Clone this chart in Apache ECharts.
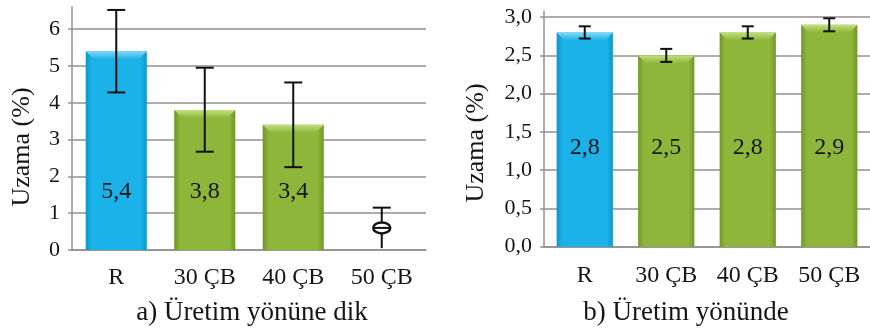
<!DOCTYPE html>
<html>
<head>
<meta charset="utf-8">
<script src="https://cdn.jsdelivr.net/npm/echarts@6/dist/echarts.min.js"></script>
<style>html,body{margin:0;padding:0;background:#fff}#c{width:870px;height:334px}</style>
</head>
<body>
<div id="c"></div>
<script>
// ---- data ----
var categories = ['R', '30 ÇB', '40 ÇB', '50 ÇB'];
// a) Üretim yönüne dik
var perpBars = [5.4, 3.8, 3.4, null];
var perpLabels = ['5,4', '3,8', '3,4', ''];
var perpErrMid = [5.4, 3.81, 3.4, 0.6];
var perpErr = [1.12, 1.14, 1.15, 0.55];
var perpTicks = [0, 1, 2, 3, 4, 5, 6];
// b) Üretim yönünde
var parBars = [2.8, 2.5, 2.8, 2.9];
var parLabels = ['2,8', '2,5', '2,8', '2,9'];
var parErr = [0.08, 0.085, 0.08, 0.085];
var parTicks = [0, 0.5, 1.0, 1.5, 2.0, 2.5, 3.0];

var titles = ['a) Üretim yönüne dik', 'b) Üretim yönünde'];
var yName = 'Uzama (%)';

var FONT = "'Liberation Serif', 'DejaVu Serif', serif";
var BLUE = '#1ab2e8', BLUE_HI = '#86d9f6', BLUE_EDGE = '#0e95c9';
var GREEN = '#8db63b', GREEN_HI = '#c3df7e', GREEN_EDGE = '#6f9726';
var GRID = '#909090';
var TXT = '#151515';

function barColor(i) {
  var c = i === 0 ? [BLUE_EDGE, BLUE, BLUE_EDGE] : [GREEN_EDGE, GREEN, GREEN_EDGE];
  return new echarts.graphic.LinearGradient(0, 0, 1, 0, [
    {offset: 0, color: c[0]}, {offset: 0.1, color: c[1]},
    {offset: 0.9, color: c[1]}, {offset: 1, color: c[2]}
  ]);
}

function barSeries(idx, vals, labs, dist) {
  return {
    type: 'bar', xAxisIndex: idx, yAxisIndex: idx, barWidth: '69%', z: 2,
    data: vals.map(function (v, i) {
      return v == null ? '-' : {value: v, itemStyle: {color: barColor(i)}};
    }),
    label: {
      show: true, position: 'insideBottom', distance: dist,
      fontFamily: FONT, fontSize: 24, color: TXT,
      formatter: function (p) { return labs[p.dataIndex]; }
    }
  };
}

function bevelSeries(idx, vals, frac) {
  return {
    type: 'custom', xAxisIndex: idx, yAxisIndex: idx, z: 3, silent: true,
    data: vals.map(function (v, i) { return v == null ? [i, '-'] : [i, v]; }),
    encode: {x: 0, y: 1},
    renderItem: function (params, api) {
      var i = api.value(0), v = api.value(1);
      if (isNaN(v)) return;
      var top = api.coord([i, v]);
      var w = api.size([1, 0])[0] * frac;
      var x0 = top[0] - w / 2, x1 = top[0] + w / 2, y0 = top[1], b = 8;
      var hi = i === 0 ? BLUE_HI : GREEN_HI;
      var base = i === 0 ? BLUE : GREEN;
      return {
        type: 'polygon',
        shape: {points: [[x0, y0], [x1, y0], [x1 - b, y0 + b], [x0 + b, y0 + b]]},
        style: {fill: new echarts.graphic.LinearGradient(0, 0, 0, 1, [
          {offset: 0, color: hi}, {offset: 1, color: base}])}
      };
    }
  };
}

function errSeries(idx, mids, errs, cap, bars) {
  return {
    type: 'custom', xAxisIndex: idx, yAxisIndex: idx, z: 4, silent: true,
    data: mids.map(function (m, i) { return [i, m, errs[i]]; }),
    encode: {x: 0, y: 1},
    renderItem: function (params, api) {
      var i = api.value(0), m = api.value(1), e = api.value(2);
      var pTop = api.coord([i, m + e]);
      var pBot = api.coord([i, Math.max(0, m - e)]);
      var pMid = api.coord([i, m]);
      var x = pTop[0];
      var st = {stroke: '#111', lineWidth: 2};
      var ch = [
        {type: 'line', shape: {x1: x, y1: pTop[1], x2: x, y2: pBot[1]}, style: st},
        {type: 'line', shape: {x1: x - cap / 2, y1: pTop[1], x2: x + cap / 2, y2: pTop[1]}, style: st}
      ];
      if (bars && bars[i] == null) {
        ch.push({type: 'ellipse', shape: {cx: x, cy: pMid[1], rx: 8.5, ry: 5.5},
          style: {fill: '#fff', stroke: '#111', lineWidth: 2.5}});
        ch.push({type: 'line', shape: {x1: x - 8.5, y1: pMid[1], x2: x + 8.5, y2: pMid[1]}, style: st});
      } else {
        ch.push({type: 'line', shape: {x1: x - cap / 2, y1: pBot[1], x2: x + cap / 2, y2: pBot[1]}, style: st});
      }
      return {type: 'group', children: ch};
    }
  };
}

function yAxis(idx, max, interval, fmt) {
  return {
    type: 'value', gridIndex: idx, min: 0, max: max, interval: interval,
    axisLine: {show: true, lineStyle: {color: GRID, width: 1.5}},
    axisTick: {show: true, length: 4, lineStyle: {color: GRID, width: 1.5}},
    splitLine: {show: true, showMaxLine: false, lineStyle: {color: GRID, width: 1.5}},
    axisLabel: {
      showMaxLabel: false, margin: 12, fontFamily: FONT, fontSize: 22, color: TXT,
      formatter: fmt
    }
  };
}

function xAxis(idx, margin) {
  return {
    type: 'category', gridIndex: idx, data: categories,
    axisLine: {show: true, lineStyle: {color: GRID, width: 1.5}},
    axisTick: {show: false},
    axisLabel: {margin: margin, fontFamily: FONT, fontSize: 24, color: TXT}
  };
}

var chart = echarts.init(document.getElementById('c'), null, {renderer: 'canvas'});
chart.setOption({
  animation: false,
  backgroundColor: '#fff',
  grid: [
    {left: 72, top: 7, width: 354, height: 243},
    {left: 544, top: 11, width: 332, height: 235.7}
  ],
  xAxis: [xAxis(0, 16), xAxis(1, 17)],
  yAxis: [
    yAxis(0, 6.6, 1, function (v) { return perpTicks.indexOf(v) >= 0 ? String(v) : ''; }),
    yAxis(1, 3.08, 0.5, function (v) {
      return parTicks.indexOf(v) >= 0 ? v.toFixed(1).replace('.', ',') : '';
    })
  ],
  series: [
    barSeries(0, perpBars, perpLabels, 46),
    bevelSeries(0, perpBars, 0.69),
    errSeries(0, perpErrMid, perpErr, 18, perpBars),
    barSeries(1, parBars, parLabels, 87),
    bevelSeries(1, parBars, 0.69),
    errSeries(1, parBars, parErr, 12, null)
  ],
  graphic: [
    {type: 'text', x: 22, y: 147, rotation: Math.PI / 2,
      style: {text: yName, fontFamily: FONT, fontSize: 26, fill: TXT, align: 'center', verticalAlign: 'middle'}},
    {type: 'text', x: 476, y: 143, rotation: Math.PI / 2,
      style: {text: yName, fontFamily: FONT, fontSize: 26, fill: TXT, align: 'center', verticalAlign: 'middle'}},
    {type: 'text', x: 252, y: 313,
      style: {text: titles[0], fontFamily: FONT, fontSize: 27, fill: TXT, align: 'center', verticalAlign: 'middle'}},
    {type: 'text', x: 686, y: 313,
      style: {text: titles[1], fontFamily: FONT, fontSize: 27, fill: TXT, align: 'center', verticalAlign: 'middle'}}
  ]
});
</script>
</body>
</html>
